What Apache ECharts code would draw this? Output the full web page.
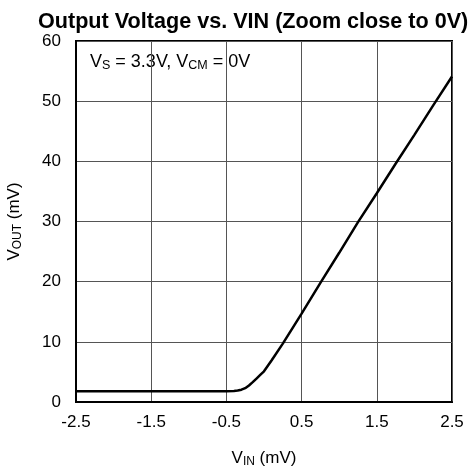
<!DOCTYPE html>
<html>
<head>
<meta charset="utf-8">
<script src="https://cdn.jsdelivr.net/npm/echarts@6/dist/echarts.min.js"></script>
<style>
  html, body { margin: 0; padding: 0; background: #fff; }
  #chart { width: 469px; height: 466px; }
</style>
</head>
<body>
<div id="chart"></div>
<script>
// Input voltage (mV) and output voltage (mV) near 0 V input
const vin = [-2.5, -1.5, -0.5, -0.4, -0.35, -0.3, -0.25, -0.2, -0.15, -0.1, -0.05, 0, 0.1, 0.25, 0.5, 0.75, 1.0, 1.25, 1.5, 1.75, 2.0, 2.25, 2.5];
const vout = [1.8, 1.8, 1.8, 1.83, 1.9, 2.05, 2.3, 2.75, 3.3, 3.9, 4.5, 5.1, 6.9, 9.7, 14.7, 19.8, 24.8, 29.9, 34.7, 39.6, 44.4, 49.3, 54.1];
const xTicks = [-2.5, -1.5, -0.5, 0.5, 1.5, 2.5];
const yTicks = [0, 10, 20, 30, 40, 50, 60];

const FONT = 'Liberation Sans, Arial, sans-serif';
const chart = echarts.init(document.getElementById('chart'));

chart.setOption({
  animation: false,
  title: {
    text: 'Output Voltage vs. VIN (Zoom close to 0V)',
    left: 33,
    top: 6,
    textStyle: { fontFamily: FONT, fontSize: 21.6, fontWeight: 'bold', color: '#000' }
  },
  grid: {
    left: 76, right: 17, top: 41, bottom: 64,
    outerBoundsMode: 'none',
    containLabel: false,
    show: true, borderColor: '#000', borderWidth: 2, backgroundColor: 'transparent'
  },
  xAxis: {
    type: 'value',
    min: -2.5, max: 2.5, interval: 1,
    name: '{v|V}{sub|IN}{v| (mV)}',
    nameLocation: 'middle',
    nameGap: 47,
    nameTextStyle: {
      rich: {
        v: { fontFamily: FONT, fontSize: 17, color: '#000' },
        sub: { fontFamily: FONT, fontSize: 12, color: '#000', padding: [7, 0, 0, 0] }
      }
    },
    axisLine: { show: true, onZero: false, lineStyle: { color: '#000', width: 2 } },
    axisTick: { show: false },
    axisLabel: {
      margin: 12, fontFamily: FONT, fontSize: 17, color: '#000',
      formatter: v => (xTicks.includes(Math.round(v * 10) / 10) ? String(v) : '')
    },
    splitLine: { show: true, lineStyle: { color: '#555', width: 1 } }
  },
  yAxis: {
    type: 'value',
    min: 0, max: 60, interval: 10,
    name: '{v|V}{sub|OUT}{v| (mV)}',
    nameLocation: 'middle',
    nameGap: 52,
    nameTextStyle: {
      rich: {
        v: { fontFamily: FONT, fontSize: 17, color: '#000' },
        sub: { fontFamily: FONT, fontSize: 12, color: '#000', padding: [7, 0, 0, 0] }
      }
    },
    axisLine: { show: true, onZero: false, lineStyle: { color: '#000', width: 2 } },
    axisTick: { show: false },
    axisLabel: {
      margin: 15, fontFamily: FONT, fontSize: 17, color: '#000',
      formatter: v => (yTicks.includes(v) ? String(v) : '')
    },
    splitLine: { show: true, lineStyle: { color: '#555', width: 1 } }
  },
  graphic: [{
    type: 'text',
    left: 90,
    top: 53,
    style: {
      text: '{v|V}{sub|S}{v| = 3.3V, V}{sub|CM}{v| = 0V}',
      rich: {
        v: { fontFamily: FONT, fontSize: 18, fill: '#000' },
        sub: { fontFamily: FONT, fontSize: 12.5, fill: '#000', padding: [8, 0, 0, 0] }
      }
    }
  }],
  series: [{
    type: 'line',
    data: vin.map((x, i) => [x, vout[i]]),
    showSymbol: false,
    smooth: false,
    lineStyle: { color: '#000', width: 2.5 },
    clip: true
  }]
});
</script>
</body>
</html>
